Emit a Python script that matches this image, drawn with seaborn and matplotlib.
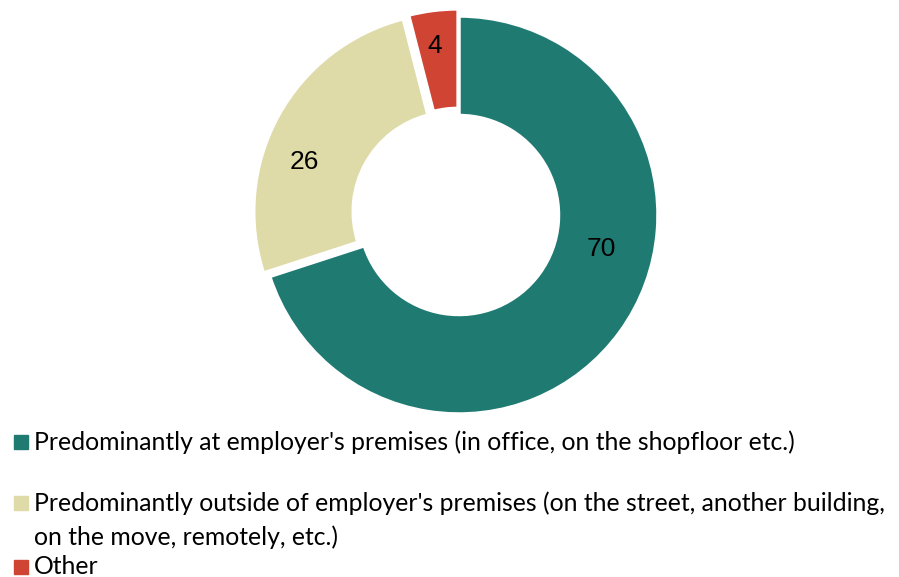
import matplotlib
matplotlib.use("Agg")
import matplotlib.pyplot as plt
import numpy as np
import seaborn as sns

categories = [
    "Predominantly at employer's premises (in office, on the shopfloor etc.)",
    "Predominantly outside of employer's premises (on the street, another building,\non the move, remotely, etc.)",
    "Other",
]
values = [70, 26, 4]
colors = ["#1F7A72", "#DEDBA9", "#D04434"]

sns.set_theme(style="white")

W, H, DPI = 899, 577, 100
fig = plt.figure(figsize=(W / DPI, H / DPI), dpi=DPI)

# square axes for the doughnut, centre and radius in pixels
cx, cy, R = 459, 215, 199
half = 215
ax = fig.add_axes([(cx - half) / W, 1 - (cy + half) / H, 2 * half / W, 2 * half / H])
lim = half / R

explode = [0.0, 0.036, 0.036]
wedges, _ = ax.pie(
    values,
    colors=colors,
    startangle=90,
    counterclock=False,
    explode=explode,
    radius=1.0,
    wedgeprops=dict(width=0.5, edgecolor="white", linewidth=2.5),
)
ax.set_xlim(-lim, lim)
ax.set_ylim(-lim, lim)
ax.set_aspect("equal")
ax.axis("off")

# value labels placed along the ring (angle in degrees, radius)
label_pos = [(-13.5, 0.735), (161, 0.82), (98, 0.86)]
for v, (ang, rad) in zip(values, label_pos):
    a = np.deg2rad(ang)
    ax.text(rad * np.cos(a), rad * np.sin(a), f"{v}", ha="center", va="center",
            fontsize=19, family="Liberation Sans", color="black")

# legend drawn below the chart, one text line at a time
legend_rows = [442, 503, 567]
line_step = 34
for cat, col, y in zip(categories, colors, legend_rows):
    fig.patches.append(plt.Rectangle((14 / W, 1 - (y + 7) / H), 14 / W, 14 / H,
                                     transform=fig.transFigure, color=col))
    for i, line in enumerate(cat.split("\n")):
        fig.text(34 / W, 1 - (y + i * line_step) / H, line, ha="left", va="center",
                 fontsize=17.8, family="Lato", color="black")

fig.savefig("out.png", dpi=DPI)
